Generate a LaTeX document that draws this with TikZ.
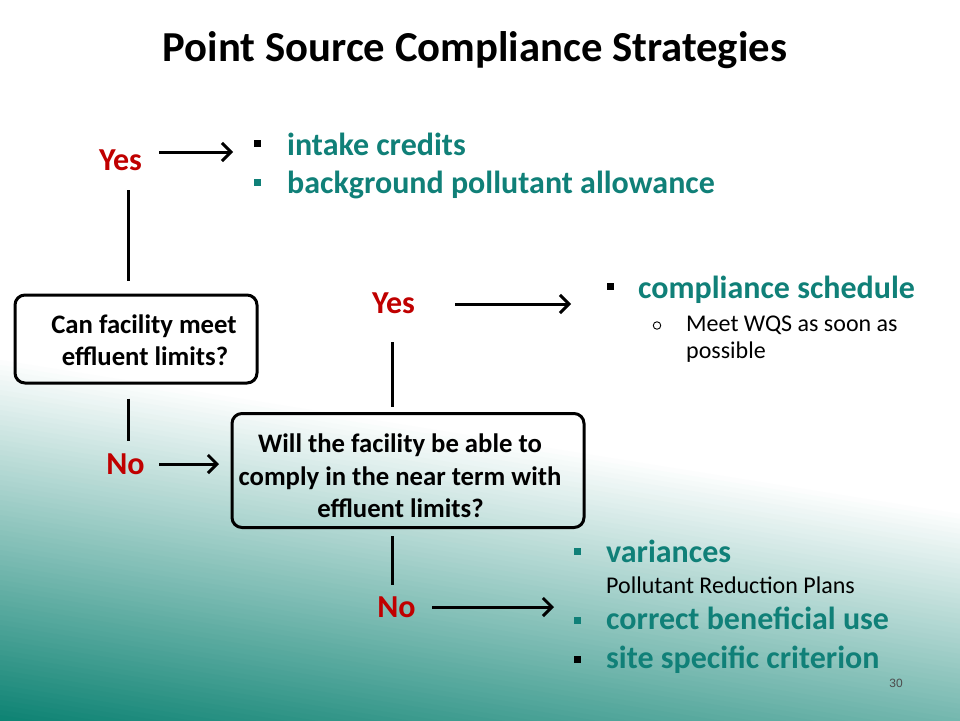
\documentclass[tikz,border=0pt]{standalone}
\usepackage{fontspec}
\setmainfont{Carlito}
\newfontfamily\arialfam{Liberation Sans}
\usetikzlibrary{arrows.meta}
\definecolor{tealdark}{RGB}{12,130,114}
\definecolor{tealtext}{RGB}{16,128,120}
\definecolor{redtxt}{RGB}{192,0,0}
\begin{document}
\begin{tikzpicture}[x=1pt,y=-1pt,
  item/.style={inner sep=0, anchor=base west, font=\fontsize{32}{38}\selectfont\bfseries, text=tealtext},
  subtext/.style={inner sep=0, anchor=base west, font=\fontsize{24}{29}\selectfont},
  yn/.style={inner sep=0, anchor=base, font=\fontsize{32}{38}\selectfont\bfseries, text=redtxt},
  qbox/.style={draw, line width=3pt, rounded corners=10pt, inner sep=0},
  qtext/.style={inner sep=0, anchor=base, font=\fontsize{26.7}{32}\selectfont\bfseries},
  bsq/.style={inner sep=0, minimum size=7pt, fill=#1},
  conn/.style={line width=3pt},
  arr/.style={line width=3pt, -{Straight Barb[length=9pt,width=18pt]}},
]
\useasboundingbox (0,0) rectangle (960,720);
% background
\fill[white] (0,0) rectangle (960,720);
\begin{scope}
\clip (0,0) rectangle (960,720);
\foreach \d in {355,360,...,725}{
  \pgfmathsetmacro\t{min(100,(\d-355)/365*100)}
  \fill[tealdark!\t!white] (0,\d) -- (960,\d+154) -- (960,\d+160) -- (0,\d+6) -- cycle;
}
\end{scope}

% title
\node[inner sep=0, anchor=base, font=\fontsize{42.7}{50}\selectfont\bfseries] (title) at (475,61) {Point Source Compliance Strategies};

% first question
\node[qbox, minimum width=242pt, minimum height=88pt] (box1) at (136,339) {};
\node[qtext] (q1a) at (144,333) {Can facility meet};
\node[qtext] (q1b) at (145,365) {effluent limits?};

\node[yn] (yes1) at (120.5,170) {Yes};
\node[yn] (no1) at (125.5,474) {No};

\draw[conn, shorten <=13pt, shorten >=20pt] ([xshift=-8pt]box1.north) -- ([xshift=-8pt]box1.north |- yes1.south);
\draw[conn, shorten <=14pt, shorten >=12.4pt] ([xshift=-8pt]box1.south) -- ([xshift=-8pt]box1.south |- no1.north);

% yes list 1
\node[bsq=black] (b1) at (257,143.5) {};
\node[item] (t1) at (287,155) {intake credits};
\node[bsq=tealtext] (b2) at (257,182.5) {};
\node[item] (t2) at (287,193) {background pollutant allowance};

\coordinate (a1s) at (159,152);
\coordinate (a1e) at (233,152);
\draw[arr] (a1s) -- (a1e);

% second question
\node[qbox, minimum width=352pt, minimum height=114pt] (box2) at (408,470.5) {};
\node[qtext] (q2a) at (400,452) {Will the facility be able to};
\node[qtext] (q2b) at (400,485) {comply in the near term with};
\node[qtext] (q2c) at (400.5,517) {effluent limits?};

\coordinate (a2s) at (159,464);
\coordinate (a2e) at (219,464);
\draw[arr] (a2s) -- (a2e);

\node[yn] (yes2) at (393.5,313) {Yes};
\node[yn] (no2) at (396.5,617) {No};

\draw[conn, shorten <=5.5pt, shorten >=29pt] ([xshift=-16pt]box2.north) -- ([xshift=-16pt]box2.north |- yes2.south);
\draw[conn, shorten <=7pt, shorten >=11.4pt] ([xshift=-16pt]box2.south) -- ([xshift=-16pt]box2.south |- no2.north);

% yes list 2
\coordinate (a3s) at (455,304);
\coordinate (a3e) at (571,304);
\draw[arr] (a3s) -- (a3e);
\node[bsq=black] (b3) at (610.5,286.5) {};
\node[item] (t3) at (638,298) {compliance schedule};
\node[circle, draw, line width=0.9pt, minimum size=7.5pt, inner sep=0] (o1) at (657,325.5) {};
\node[subtext] (s1) at (686,331) {Meet WQS as soon as};
\node[subtext] (s2) at (686,358) {possible};

% no list 2
\coordinate (a4s) at (432,607);
\coordinate (a4e) at (554,607);
\draw[arr] (a4s) -- (a4e);
\node[bsq=tealtext] (b4) at (577.5,551) {};
\node[item] (t4) at (606,562) {variances};
\node[subtext] (s3) at (606,593) {Pollutant Reduction Plans};
\node[bsq=tealtext] (b5) at (577.5,620) {};
\node[item] (t5) at (606,629) {correct beneficial use};
\node[bsq=black] (b6) at (577.5,659) {};
\node[item] (t6) at (606,668) {site specific criterion};

\node[inner sep=0, anchor=base, font=\arialfam\fontsize{12}{14}\selectfont, text=black!70] (pg) at (896,687) {30};
\end{tikzpicture}
\end{document}
